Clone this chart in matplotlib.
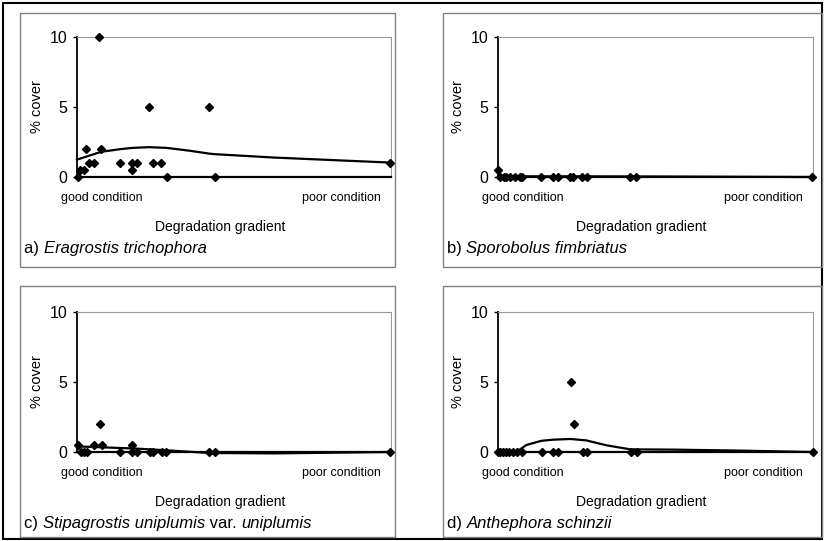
import matplotlib.pyplot as plt
from matplotlib.patches import Rectangle

plt.rcParams['font.family'] = ['Liberation Sans', 'DejaVu Sans']

W, H = 825, 541

# panel a) Eragrostis trichophora
a_x = [0.4, 1.0, 2.2, 2.8, 3.9, 5.4, 7.1, 7.6, 13.7, 17.4, 17.4, 19.0, 22.9, 24.1, 26.7, 28.6, 42.0, 43.8, 99.7]
a_y = [0, 0.5, 0.5, 2, 1, 1, 10, 2, 1, 0.5, 1, 1, 5, 1, 1, 0, 5, 0, 1]
a_lx = [0, 7.7, 13.8, 17.6, 23.0, 28.5, 36.1, 42.1, 43.9, 62.6, 99.8]
a_ly = [1.24, 1.8, 1.99, 2.08, 2.13, 2.08, 1.87, 1.67, 1.63, 1.39, 1.03]

# panel b) Sporobolus fimbriatus
b_x = [0, 0.7, 1.8, 2.6, 3.7, 5.3, 6.9, 7.7, 13.8, 17.5, 19.0, 23.0, 23.8, 26.7, 28.4, 42.0, 43.9, 99.8]
b_y = [0.5, 0, 0, 0, 0, 0, 0, 0, 0, 0, 0, 0, 0, 0, 0, 0, 0, 0]
b_lx = [0, 0.7, 5, 20, 44, 100]
b_ly = [0.52, 0.08, 0.05, 0.05, 0.04, 0.0]

# panel c) Stipagrostis uniplumis var. uniplumis
c_x = [0.4, 1.2, 2.1, 3.3, 5.4, 7.3, 7.9, 13.7, 17.6, 17.6, 19.2, 23.2, 24.3, 27.0, 28.5, 42.0, 43.8, 99.7]
c_y = [0.5, 0, 0, 0, 0.5, 2, 0.5, 0, 0.5, 0, 0, 0, 0, 0, 0, 0, 0, 0]
c_lx = [0, 8.5, 19.2, 28.5, 42.2, 62.6, 99.7]
c_ly = [0.4, 0.33, 0.24, 0.12, -0.07, -0.1, 0.0]

# panel d) Anthephora schinzii
d_x = [0, 0.6, 1.5, 2.5, 3.6, 4.7, 5.9, 7.7, 13.9, 17.6, 19.0, 23.1, 24.1, 27.1, 28.3, 42.1, 44.0, 99.9]
d_y = [0, 0, 0, 0, 0, 0, 0, 0, 0, 0, 0, 5, 2, 0, 0, 0, 0, 0]
d_lx = [0, 5.8, 9.0, 13.8, 17.5, 23.0, 28.0, 34.4, 42.0, 55.6, 76.7, 99.8]
d_ly = [-0.07, 0.0, 0.5, 0.8, 0.88, 0.93, 0.83, 0.48, 0.19, 0.17, 0.1, 0.0]

titles = [
    ('a) ', 'Eragrostis trichophora', '', ''),
    ('b) ', 'Sporobolus fimbriatus', '', ''),
    ('c) ', 'Stipagrostis uniplumis', ' var. ', 'uniplumis'),
    ('d) ', 'Anthephora schinzii', '', ''),
]

panels = [
    (a_x, a_y, a_lx, a_ly),
    (b_x, b_y, b_lx, b_ly),
    (c_x, c_y, c_lx, c_ly),
    (d_x, d_y, d_lx, d_ly),
]

# pixel layout: box (x0, y0, x1, y1), axes left/right, y of 10 and 0
boxes = [(20, 13, 395, 267), (443, 13, 822, 267), (20, 286, 395, 537), (443, 286, 822, 537)]
axes_px = [(77, 391, 37, 177), (498, 813, 37, 177), (77, 391, 312, 452), (498, 813, 312, 452)]

fig = plt.figure(figsize=(W / 100, H / 100), dpi=100)

def fx(px):
    return px / W

def fy(py):
    return 1 - py / H

# outer frame
fig.patches.append(Rectangle((fx(3), fy(539)), fx(819), 536 / H, transform=fig.transFigure,
                             fill=False, edgecolor='black', linewidth=1.5))

for i, (xs, ys, lx, ly) in enumerate(panels):
    bx0, by0, bx1, by1 = boxes[i]
    fig.patches.append(Rectangle((fx(bx0), fy(by1)), fx(bx1 - bx0), (by1 - by0) / H,
                                 transform=fig.transFigure, fill=False,
                                 edgecolor='#808080', linewidth=1.0))
    l, r, t, b = axes_px[i]
    ax = fig.add_axes([fx(l), fy(b), fx(r - l), (b - t) / H])
    ax.plot(lx, ly, color='black', linewidth=1.6, clip_on=False, zorder=2)
    ax.plot(xs, ys, linestyle='none', marker='D', markersize=3.8, color='black', clip_on=False, zorder=3)
    ax.set_xlim(0, 100)
    ax.set_ylim(0, 10)
    ax.set_yticks([0, 5, 10])
    ax.tick_params(axis='y', length=3, width=1, labelsize=11.5, pad=4)
    ax.set_xticks([])
    for s in ['top', 'right']:
        ax.spines[s].set_color('#999999')
        ax.spines[s].set_linewidth(0.8)
    ax.spines['left'].set_linewidth(1.3)
    ax.spines['bottom'].set_linewidth(1.6)

    # labels
    fig.text(fx(l - 40), fy((t + b) / 2), '% cover', rotation=90, ha='center', va='center', fontsize=10.5)
    fig.text(fx(l - 16), fy(b + 21), 'good condition', ha='left', va='center', fontsize=9)
    fig.text(fx(r - 10), fy(b + 21), 'poor condition', ha='right', va='center', fontsize=9)
    fig.text(fx((l + r) / 2 - 14), fy(b + 50), 'Degradation gradient', ha='center', va='center', fontsize=10)

    # panel caption: plain prefix, italic species name
    p1, sp, mid, var = titles[i]
    ty = fy(b + 76)
    t1 = fig.text(fx(bx0 + 4), ty, p1, ha='left', va='baseline', fontsize=12)
    fig.canvas.draw()
    rend = fig.canvas.get_renderer()
    x = bx0 + 4 + t1.get_window_extent(rend).width
    t2 = fig.text(fx(x), ty, sp, ha='left', va='baseline', fontsize=12, style='italic')
    x += t2.get_window_extent(rend).width
    if mid:
        t3 = fig.text(fx(x), ty, mid, ha='left', va='baseline', fontsize=12)
        x += t3.get_window_extent(rend).width
        fig.text(fx(x), ty, var, ha='left', va='baseline', fontsize=12, style='italic')

fig.savefig('out.png', dpi=100)
